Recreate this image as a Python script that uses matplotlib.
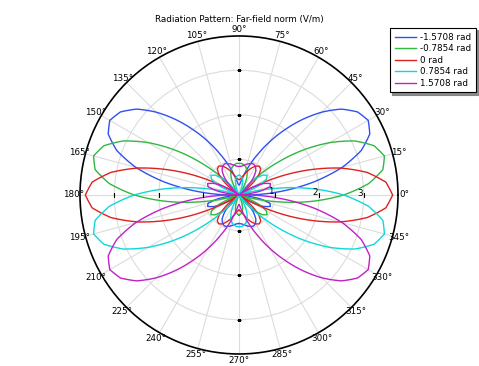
import numpy as np
import matplotlib
matplotlib.use("Agg")
import matplotlib.pyplot as plt

# angles (deg) of the right half of the pattern, -90..90; left half is the mirror image
ang_half = [-90, -85, -80, -75, -70, -65, -60, -55, -50, -45, -40, -35, -30, -25, -20,
            -15, -10, -5, 0, 5, 10, 15, 20, 25, 30, 35, 40, 45, 50, 55, 60, 65, 70,
            75, 80, 85, 90]

# far-field norm (V/m)
r_m1571 = [0.84, 0.85, 0.88, 0.92, 0.95, 0.97, 0.94, 0.86, 0.70, 0.46, 0.2, 0.2, 0.53,
           0.81, 0.95, 0.92, 0.67, 0.21, 0.42, 1.16, 1.92, 2.60, 3.12, 3.44, 3.55, 3.45,
           3.20, 2.83, 2.41, 1.98, 1.58, 1.22, 0.93, 0.70, 0.55, 0.45, 0.42]
r_m0785 = [0.65, 0.63, 0.59, 0.51, 0.39, 0.23, 0.2, 0.21, 0.46, 0.70, 0.89, 0.97, 0.91,
           0.68, 0.25, 0.36, 1.08, 1.84, 2.55, 3.12, 3.48, 3.58, 3.43, 3.07, 2.55, 1.96,
           1.35, 0.79, 0.30, 0.2, 0.39, 0.60, 0.74, 0.83, 0.88, 0.91, 0.91]
r_0 = [0.54, 0.56, 0.61, 0.68, 0.78, 0.87, 0.95, 0.99, 0.96, 0.82, 0.55, 0.2, 0.43, 1.11,
       1.83, 2.54, 3.12, 3.51, 3.65, 3.51, 3.12, 2.54, 1.83, 1.11, 0.43, 0.2, 0.55,
       0.82, 0.96, 0.99, 0.95, 0.87, 0.78, 0.68, 0.61, 0.56, 0.54]
r_p0785 = r_m0785[::-1]
r_p1571 = r_m1571[::-1]

labels = ["-1.5708 rad", "-0.7854 rad", "0 rad", "0.7854 rad", "1.5708 rad"]
colors = ["#3050f0", "#30b840", "#e02020", "#10d8d8", "#c020c8"]
series = [r_m1571, r_m0785, r_0, r_p0785, r_p1571]

r_min, r_max = 0.2, 3.77
fs = 6.3

ang_full = np.deg2rad(np.array(ang_half + [180 - a for a in ang_half[::-1]]))

fig = plt.figure(figsize=(4.79, 3.66), dpi=100)
ax = fig.add_axes([0.167, 0.0328, 0.6639, 0.8689], projection="polar")

for r, lab, col in zip(series, labels, colors):
    ln, = ax.plot(ang_full, r + r[::-1], color=col, lw=1.0, label=lab)
    ln.get_path()._interpolation_steps = 12

ax.set_rlim(r_min, r_max)
ax.set_rticks([1, 2, 3])
ax.set_yticklabels([])
for rt in [1, 2, 3]:
    ax.text(np.deg2rad(-1.5), rt - 0.02, str(rt), ha="right", va="bottom", fontsize=fs)
    for a in [0, 180]:
        ax.plot(np.deg2rad(a), rt, marker="|", color="black", ms=2.5, mew=0.8)
    for a in [90, 270]:
        ax.plot(np.deg2rad(a), rt, marker="_", color="black", ms=2.5, mew=0.8)

ax.set_thetagrids(range(0, 360, 15), [f"{a}°" for a in range(0, 360, 15)], fontsize=fs)
ax.tick_params(axis="x", pad=-6)
ax.grid(color="#dcdcdc", lw=0.8)
ax.spines["polar"].set_color("black")
ax.spines["polar"].set_linewidth(1.2)

fig.text(0.499, 0.946, "Radiation Pattern: Far-field norm (V/m)", ha="center", va="center", fontsize=fs)

leg = ax.legend(loc="upper left", bbox_to_anchor=(390 / 479, 1 - 28 / 366),
                bbox_transform=fig.transFigure, fontsize=fs, fancybox=False,
                shadow={"ox": 1.5, "oy": -1.5, "shade": 0.5, "alpha": 0.9},
                edgecolor="black", handlelength=2.4, handletextpad=0.5,
                labelspacing=0.28, borderpad=0.55, borderaxespad=0)
leg.get_frame().set_linewidth(0.8)

fig.savefig("out.png", dpi=100)
